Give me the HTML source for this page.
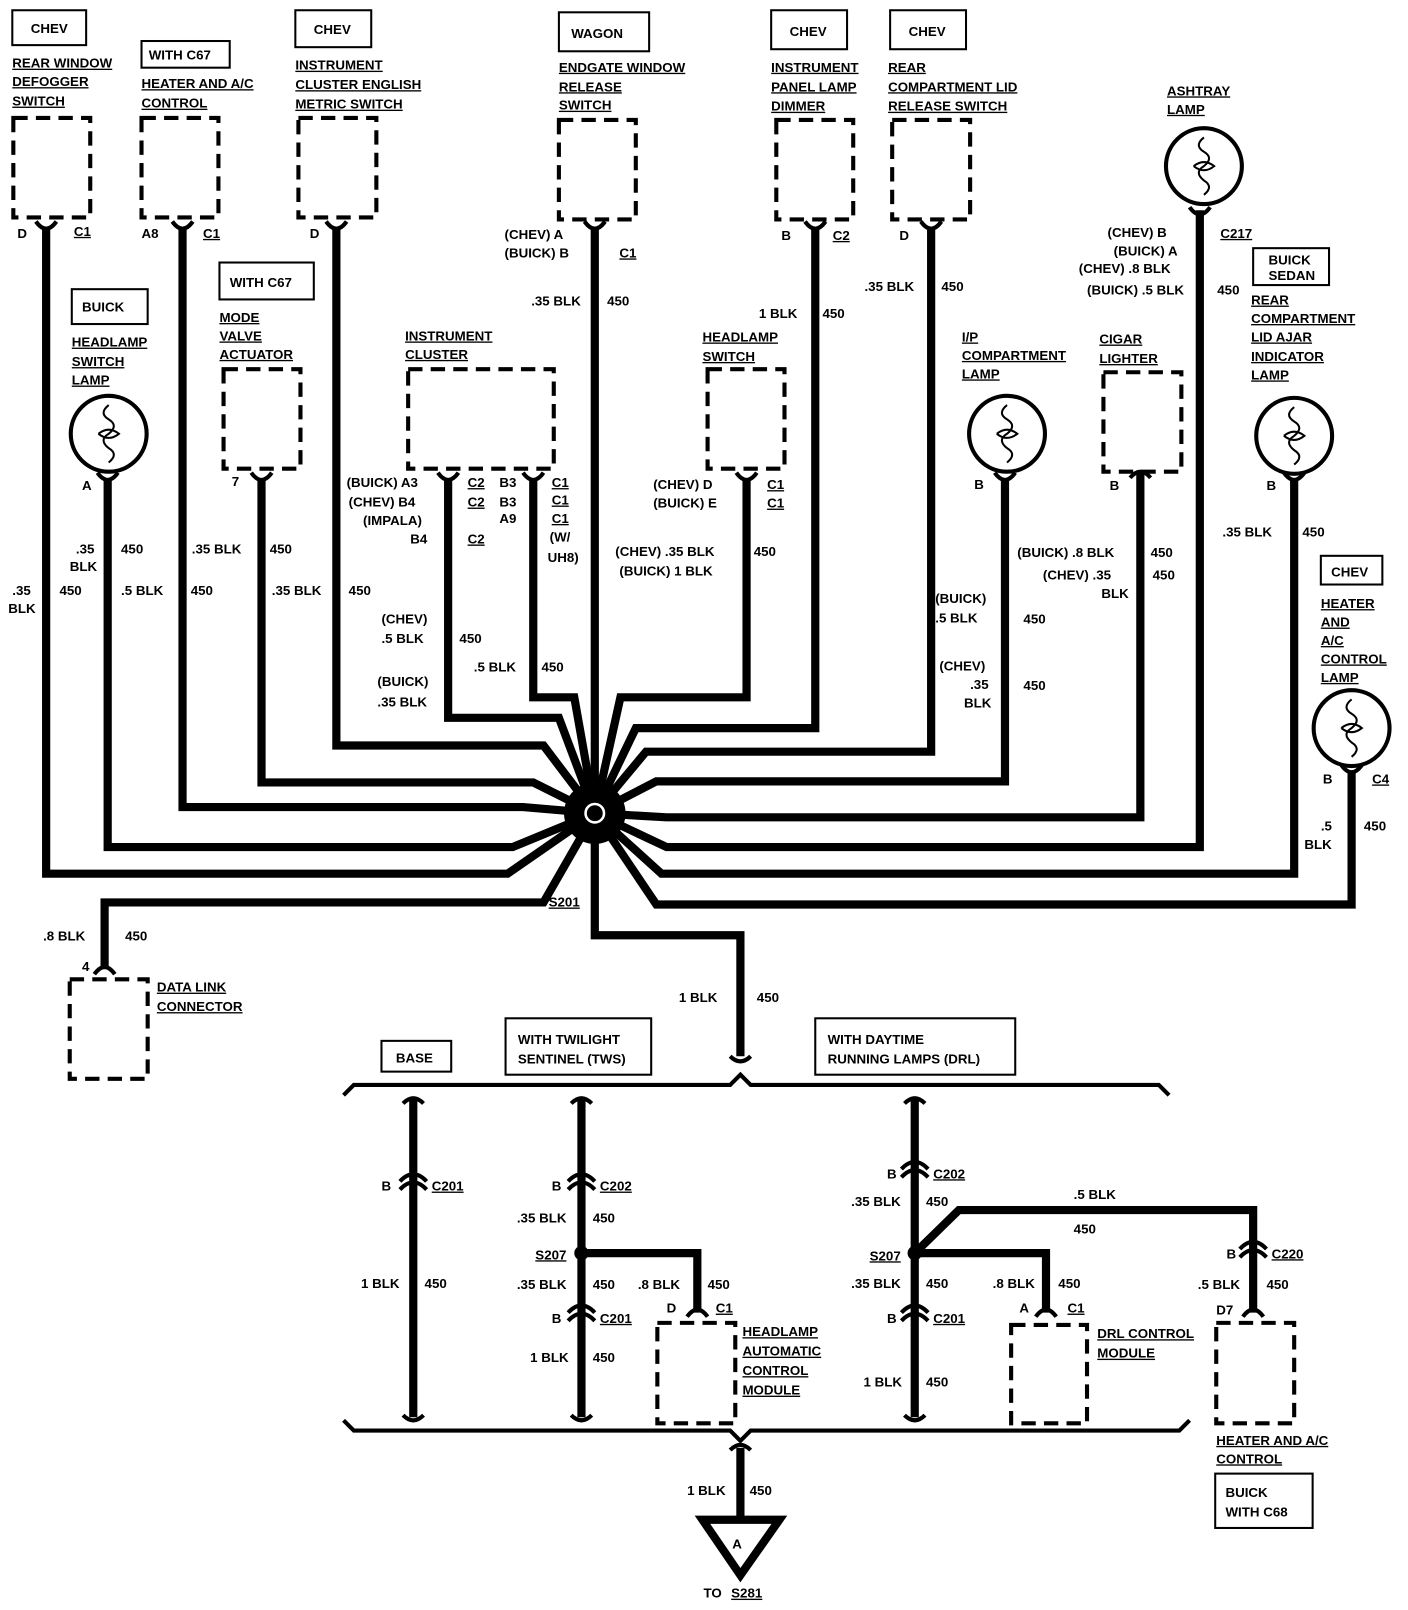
<!DOCTYPE html>
<html><head><meta charset="utf-8"><style>
html,body{margin:0;padding:0;background:#fff}
svg{display:block}
text{font-family:"Liberation Sans",sans-serif;font-weight:bold;font-size:13px;fill:#000}
.u{text-decoration:underline}
.w{fill:none;stroke:#000;stroke-width:8;stroke-linejoin:miter}
.d{fill:none;stroke:#000;stroke-width:4;stroke-dasharray:14 8}
.b{fill:none;stroke:#000;stroke-width:2}
.c{fill:none;stroke:#000;stroke-width:4}
</style></head><body>
<svg width="1408" height="1610" viewBox="0 0 1373 1570" preserveAspectRatio="none" xmlns="http://www.w3.org/2000/svg">
<!-- dashed boxes -->
<rect class="d" x="13" y="115" width="75" height="97"/>
<rect class="d" x="138" y="115" width="75" height="97"/>
<rect class="d" x="291" y="115" width="76" height="97"/>
<rect class="d" x="545" y="117" width="75" height="97"/>
<rect class="d" x="757" y="117" width="75" height="97"/>
<rect class="d" x="870" y="117" width="76" height="97"/>
<rect class="d" x="218" y="360" width="75" height="97"/>
<rect class="d" x="398" y="360" width="142" height="97"/>
<rect class="d" x="690" y="360" width="75" height="97"/>
<rect class="d" x="1076" y="363" width="76" height="97"/>
<rect class="d" x="68" y="955" width="76" height="97"/>
<rect class="d" x="641" y="1290" width="76" height="98"/>
<rect class="d" x="986" y="1292" width="74" height="96"/>
<rect class="d" x="1186" y="1290" width="76" height="98"/>
<!-- lamps -->
<g class="c">
<circle cx="106" cy="423" r="37"/><circle cx="982" cy="423" r="37"/><circle cx="1174" cy="162" r="37"/><circle cx="1262" cy="425" r="37"/><circle cx="1318" cy="710" r="37"/>
</g>
<g class="b" stroke-width="2.5">
<path d="M106 395 q-10 8 0 14 q10 6 0 14 q-10 6 0 14 q10 6 0 14 M96 423 q10 -8 20 0 q-10 8 -20 0"/>
<path d="M982 395 q-10 8 0 14 q10 6 0 14 q-10 6 0 14 q10 6 0 14 M972 423 q10 -8 20 0 q-10 8 -20 0"/>
<path d="M1174 134 q-10 8 0 14 q10 6 0 14 q-10 6 0 14 q10 6 0 14 M1164 162 q10 -8 20 0 q-10 8 -20 0"/>
<path d="M1262 397 q-10 8 0 14 q10 6 0 14 q-10 6 0 14 q10 6 0 14 M1252 425 q10 -8 20 0 q-10 8 -20 0"/>
<path d="M1318 682 q-10 8 0 14 q10 6 0 14 q-10 6 0 14 q10 6 0 14 M1308 710 q10 -8 20 0 q-10 8 -20 0"/>
</g>
<!-- wires -->
<g class="w">
<polyline points="45,222 45,852 495,852 580,793"/>
<polyline points="105,467 105,826 500,826 580,793"/>
<polyline points="178,222 178,787 510,787 580,793"/>
<polyline points="255,467 255,763 520,763 580,793"/>
<polyline points="328,222 328,727 530,727 580,793"/>
<polyline points="437,467 437,700 545,700 580,793"/>
<polyline points="520,467 520,680 560,680 580,793"/>
<polyline points="580,222 580,793"/>
<polyline points="728,467 728,680 605,680 580,793"/>
<polyline points="795,222 795,710 620,710 580,793"/>
<polyline points="908,222 908,733 630,733 580,793"/>
<polyline points="980,467 980,762 640,762 580,793"/>
<polyline points="1112,460 1112,797 650,797 580,793"/>
<polyline points="1170,205 1170,826 650,826 580,793"/>
<polyline points="1262,467 1262,852 645,852 580,793"/>
<polyline points="1318,752 1318,882 640,882 580,793"/>
<polyline points="102,945 102,880 530,880 580,793"/>
<polyline points="580,793 580,912 722,912 722,1030"/>
<line x1="403" y1="1072" x2="403" y2="1382"/>
<line x1="567" y1="1072" x2="567" y2="1382"/>
<line x1="892" y1="1072" x2="892" y2="1382"/>
<polyline points="567,1222 680,1222 680,1280"/>
<polyline points="892,1222 1020,1222 1020,1280"/>
<polyline points="892,1222 935,1180 1222,1180 1222,1280"/>
<line x1="722" y1="1412" x2="722" y2="1482"/>
</g>
<!-- fan wedges fill -->
<circle cx="580" cy="793" r="30" fill="#000"/>
<circle cx="580" cy="793" r="9" fill="none" stroke="#fff" stroke-width="2.5"/>
<circle cx="567" cy="1222" r="7" fill="#000"/>
<circle cx="892" cy="1222" r="7" fill="#000"/>
<!-- connector arcs -->
<g class="c">
<path d="M35 216 q10 14 20 0"/><path d="M168 216 q10 14 20 0"/><path d="M318 216 q10 14 20 0"/>
<path d="M570 216 q10 14 20 0"/><path d="M785 216 q10 14 20 0"/><path d="M898 216 q10 14 20 0"/>
<path d="M1160 202 q10 14 20 0"/>
<path d="M95 461 q10 14 20 0"/><path d="M245 461 q10 14 20 0"/><path d="M427 461 q10 14 20 0"/><path d="M510 461 q10 14 20 0"/>
<path d="M718 461 q10 14 20 0"/><path d="M970 461 q10 14 20 0"/><path d="M1252 461 q10 14 20 0"/><path d="M1308 746 q10 14 20 0"/>
<path d="M1102 466 q10 -12 20 0"/>
<path d="M92 950 q10 -14 20 0"/>
<path d="M670 1284 q10 -14 20 0"/><path d="M1010 1284 q10 -14 20 0"/><path d="M1212 1284 q10 -14 20 0"/>
<path d="M390 1160 q13 -14 26 0 M390 1152 q13 -14 26 0"/>
<path d="M554 1160 q13 -14 26 0 M554 1152 q13 -14 26 0"/>
<path d="M554 1288 q13 -14 26 0 M554 1280 q13 -14 26 0"/>
<path d="M879 1148 q13 -14 26 0 M879 1140 q13 -14 26 0"/>
<path d="M879 1288 q13 -14 26 0 M879 1280 q13 -14 26 0"/>
<path d="M1209 1226 q13 -14 26 0 M1209 1218 q13 -14 26 0"/>
<path d="M393 1076 q10 -10 20 0"/><path d="M557 1076 q10 -10 20 0"/><path d="M882 1076 q10 -10 20 0"/>
<path d="M393 1380 q10 10 20 0"/><path d="M557 1380 q10 10 20 0"/><path d="M882 1380 q10 10 20 0"/>
<path d="M712 1030 q10 10 20 0"/><path d="M712 1414 q10 -10 20 0"/>
</g>
<!-- brackets -->
<g class="c" stroke-width="3">
<path d="M335 1068 L345 1058 L712 1058 L722 1048 L732 1058 L1130 1058 L1140 1068"/>
<path d="M335 1385 L345 1395 L712 1395 L722 1405 L732 1395 L1150 1395 L1160 1385"/>
</g>
<polygon points="685,1482 760,1482 722,1536" fill="#fff" stroke="#000" stroke-width="8" stroke-linejoin="miter"/>
<text x="714" y="1510" font-size="16">A</text>
<!-- label boxes -->
<g class="b">
<rect x="12" y="10" width="72" height="34"/><rect x="138" y="40" width="86" height="26"/><rect x="288" y="10" width="74" height="36"/>
<rect x="545" y="12" width="88" height="38"/><rect x="752" y="10" width="74" height="38"/><rect x="868" y="10" width="74" height="38"/>
<rect x="70" y="282" width="74" height="34"/><rect x="214" y="256" width="92" height="36"/><rect x="1222" y="242" width="74" height="36"/>
<rect x="1288" y="542" width="60" height="28"/><rect x="372" y="1015" width="68" height="30"/><rect x="493" y="993" width="142" height="55"/>
<rect x="795" y="993" width="195" height="55"/><rect x="1185" y="1437" width="95" height="53"/>
</g>
<text x="30" y="32">CHEV</text><text x="145" y="58">WITH  C67</text><text x="306" y="33">CHEV</text>
<text x="557" y="37">WAGON</text><text x="770" y="35">CHEV</text><text x="886" y="35">CHEV</text>
<text x="80" y="304">BUICK</text><text x="224" y="280">WITH C67</text><text x="1237" y="258">BUICK</text><text x="1237" y="273">SEDAN</text>
<text x="1298" y="562">CHEV</text><text x="386" y="1036">BASE</text>
<text x="505" y="1018">WITH TWILIGHT</text><text x="505" y="1037">SENTINEL (TWS)</text>
<text x="807" y="1018">WITH DAYTIME</text><text x="807" y="1037">RUNNING LAMPS (DRL)</text>
<text x="1195" y="1460">BUICK</text><text x="1195" y="1479">WITH C68</text>
<!-- component titles -->
<g class="u">
<text x="12" y="66">REAR  WINDOW</text><text x="12" y="84">DEFOGGER</text><text x="12" y="103">SWITCH</text>
<text x="138" y="86">HEATER  AND  A/C</text><text x="138" y="105">CONTROL</text>
<text x="288" y="68">INSTRUMENT</text><text x="288" y="87">CLUSTER ENGLISH</text><text x="288" y="106">METRIC SWITCH</text>
<text x="545" y="70">ENDGATE  WINDOW</text><text x="545" y="89">RELEASE</text><text x="545" y="107">SWITCH</text>
<text x="752" y="70">INSTRUMENT</text><text x="752" y="89">PANEL LAMP</text><text x="752" y="108">DIMMER</text>
<text x="866" y="70">REAR</text><text x="866" y="89">COMPARTMENT LID</text><text x="866" y="108">RELEASE SWITCH</text>
<text x="1138" y="93">ASHTRAY</text><text x="1138" y="111">LAMP</text>
<text x="70" y="338">HEADLAMP</text><text x="70" y="357">SWITCH</text><text x="70" y="375">LAMP</text>
<text x="214" y="314">MODE</text><text x="214" y="332">VALVE</text><text x="214" y="350">ACTUATOR</text>
<text x="395" y="332">INSTRUMENT</text><text x="395" y="350">CLUSTER</text>
<text x="685" y="333">HEADLAMP</text><text x="685" y="352">SWITCH</text>
<text x="938" y="333">I/P</text><text x="938" y="351">COMPARTMENT</text><text x="938" y="369">LAMP</text>
<text x="1072" y="335">CIGAR</text><text x="1072" y="354">LIGHTER</text>
<text x="1220" y="297">REAR</text><text x="1220" y="315">COMPARTMENT</text><text x="1220" y="333">LID AJAR</text><text x="1220" y="352">INDICATOR</text><text x="1220" y="370">LAMP</text>
<text x="1288" y="593">HEATER</text><text x="1288" y="611">AND</text><text x="1288" y="629">A/C</text><text x="1288" y="647">CONTROL</text><text x="1288" y="665">LAMP</text>
<text x="153" y="967">DATA  LINK</text><text x="153" y="986">CONNECTOR</text>
<text x="724" y="1303">HEADLAMP</text><text x="724" y="1322">AUTOMATIC</text><text x="724" y="1341">CONTROL</text><text x="724" y="1360">MODULE</text>
<text x="1070" y="1305">DRL  CONTROL</text><text x="1070" y="1324">MODULE</text>
<text x="1186" y="1409">HEATER  AND  A/C</text><text x="1186" y="1427">CONTROL</text>
</g>
<!-- pin labels -->
<text x="17" y="232">D</text><text class="u" x="72" y="230">C1</text>
<text x="138" y="232">A8</text><text class="u" x="198" y="232">C1</text>
<text x="302" y="232">D</text>
<text x="492" y="233">(CHEV)  A</text><text x="492" y="251">(BUICK)  B</text><text class="u" x="604" y="251">C1</text>
<text x="762" y="234">B</text><text class="u" x="812" y="234">C2</text>
<text x="877" y="234">D</text>
<text x="1080" y="231">(CHEV)   B</text><text x="1086" y="249">(BUICK)   A</text><text x="1052" y="266">(CHEV)  .8  BLK</text><text x="1060" y="287">(BUICK) .5 BLK</text>
<text class="u" x="1190" y="232">C217</text><text x="1187" y="287">450</text>
<text x="80" y="478">A</text><text x="226" y="474">7</text>
<text x="338" y="475">(BUICK)   A3</text><text x="340" y="494">(CHEV)   B4</text><text x="354" y="512">(IMPALA)</text><text x="400" y="530">B4</text>
<text class="u" x="456" y="475">C2</text><text class="u" x="456" y="494">C2</text><text class="u" x="456" y="530">C2</text>
<text x="487" y="475">B3</text><text x="487" y="494">B3</text><text x="487" y="510">A9</text>
<text class="u" x="538" y="475">C1</text><text class="u" x="538" y="492">C1</text><text class="u" x="538" y="510">C1</text><text x="536" y="528">(W/</text><text x="534" y="548">UH8)</text>
<text x="637" y="477">(CHEV)   D</text><text x="637" y="495">(BUICK)  E</text><text class="u" x="748" y="477">C1</text><text class="u" x="748" y="495">C1</text>
<text x="950" y="477">B</text><text x="1082" y="478">B</text><text x="1235" y="478">B</text>
<text x="1290" y="764">B</text><text class="u" x="1338" y="764">C4</text>
<text x="80" y="947">4</text>
<!-- wire labels -->
<text x="518" y="298">.35 BLK</text><text x="592" y="298">450</text>
<text x="740" y="310">1 BLK</text><text x="802" y="310">450</text>
<text x="843" y="284">.35 BLK</text><text x="918" y="284">450</text>
<text x="74" y="540">.35</text><text x="68" y="557">BLK</text><text x="118" y="540">450</text>
<text x="12" y="580">.35</text><text x="8" y="598">BLK</text><text x="58" y="580">450</text>
<text x="118" y="580">.5 BLK</text><text x="186" y="580">450</text>
<text x="187" y="540">.35 BLK</text><text x="263" y="540">450</text>
<text x="265" y="580">.35 BLK</text><text x="340" y="580">450</text>
<text x="372" y="608">(CHEV)</text><text x="372" y="627">.5  BLK</text><text x="448" y="627">450</text>
<text x="368" y="669">(BUICK)</text><text x="368" y="689">.35 BLK</text>
<text x="462" y="655">.5 BLK</text><text x="528" y="655">450</text>
<text x="600" y="542">(CHEV)  .35 BLK</text><text x="604" y="561">(BUICK)  1  BLK</text><text x="735" y="542">450</text>
<text x="912" y="588">(BUICK)</text><text x="912" y="607">.5  BLK</text><text x="998" y="608">450</text>
<text x="916" y="654">(CHEV)</text><text x="946" y="672">.35</text><text x="940" y="690">BLK</text><text x="998" y="673">450</text>
<text x="992" y="543">(BUICK) .8 BLK</text><text x="1122" y="543">450</text>
<text x="1017" y="565">(CHEV)  .35</text><text x="1074" y="583">BLK</text><text x="1124" y="565">450</text>
<text x="1192" y="523">.35 BLK</text><text x="1270" y="523">450</text>
<text x="1288" y="810">.5</text><text x="1272" y="828">BLK</text><text x="1330" y="810">450</text>
<text class="u" x="535" y="884">S201</text>
<text x="42" y="917">.8  BLK</text><text x="122" y="917">450</text>
<text x="662" y="977">1  BLK</text><text x="738" y="977">450</text>
<text x="372" y="1161">B</text><text class="u" x="421" y="1161">C201</text>
<text x="352" y="1256">1 BLK</text><text x="414" y="1256">450</text>
<text x="538" y="1161">B</text><text class="u" x="585" y="1161">C202</text>
<text x="504" y="1192">.35 BLK</text><text x="578" y="1192">450</text>
<text class="u" x="522" y="1228">S207</text>
<text x="504" y="1257">.35 BLK</text><text x="578" y="1257">450</text>
<text x="622" y="1257">.8 BLK</text><text x="690" y="1257">450</text>
<text x="538" y="1290">B</text><text class="u" x="585" y="1290">C201</text>
<text x="650" y="1280">D</text><text class="u" x="698" y="1280">C1</text>
<text x="517" y="1328">1 BLK</text><text x="578" y="1328">450</text>
<text x="865" y="1149">B</text><text class="u" x="910" y="1149">C202</text>
<text x="830" y="1176">.35 BLK</text><text x="903" y="1176">450</text>
<text x="1047" y="1169">.5 BLK</text><text x="1047" y="1203">450</text>
<text class="u" x="848" y="1229">S207</text>
<text x="830" y="1256">.35 BLK</text><text x="903" y="1256">450</text>
<text x="968" y="1256">.8 BLK</text><text x="1032" y="1256">450</text>
<text x="865" y="1290">B</text><text class="u" x="910" y="1290">C201</text>
<text x="994" y="1280">A</text><text class="u" x="1041" y="1280">C1</text>
<text x="842" y="1352">1 BLK</text><text x="903" y="1352">450</text>
<text x="1196" y="1227">B</text><text class="u" x="1240" y="1227">C220</text>
<text x="1168" y="1257">.5 BLK</text><text x="1235" y="1257">450</text>
<text x="1186" y="1282">D7</text>
<text x="670" y="1458">1 BLK</text><text x="731" y="1458">450</text>
<text x="686" y="1558">TO</text><text class="u" x="713" y="1558">S281</text>
</svg>
</body></html>
